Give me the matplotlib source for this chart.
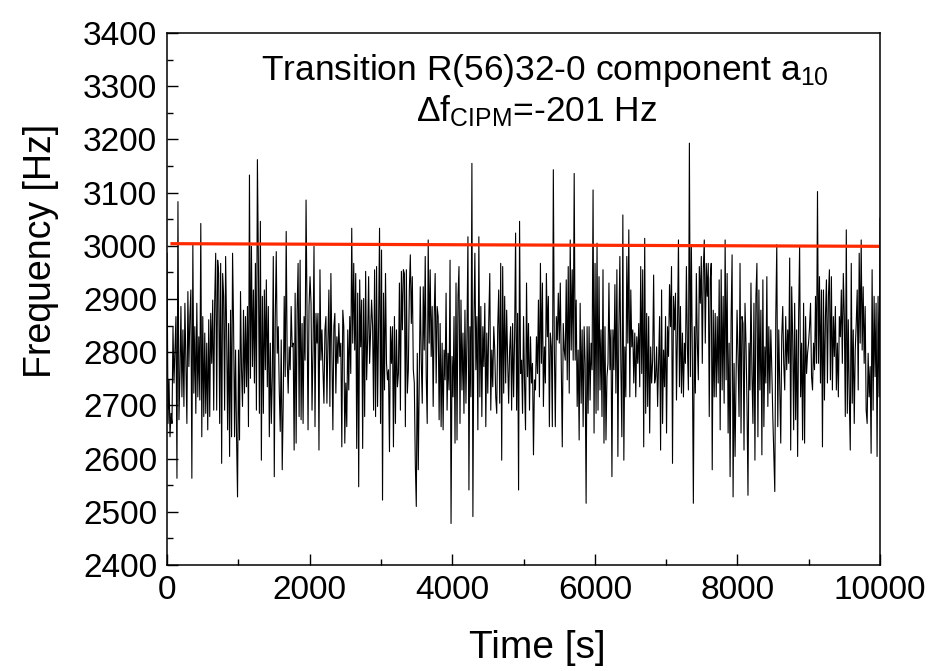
import numpy as np
import matplotlib
matplotlib.use('Agg')
import matplotlib.pyplot as plt
from matplotlib.ticker import MultipleLocator

plt.rcParams['font.family'] = ['Liberation Sans', 'DejaVu Sans']
plt.rcParams['mathtext.fontset'] = 'custom'
plt.rcParams['mathtext.rm'] = 'Liberation Sans'
plt.rcParams['mathtext.it'] = 'Liberation Sans'

# Beat frequency readings [Hz], evenly spread over 0..10000 s
freq = [
    2986, 2666, 2748, 2641, 2685, 2666, 2848, 2742, 2804, 2867, 2563, 3083, 2673, 2754, 2886, 2716,
    2842, 2698, 2892, 2779, 2666, 2914, 2773, 2867, 2917, 2563, 3002, 2723, 2848, 2685, 2892, 2716,
    2829, 2710, 3042, 2641, 2867, 2679, 2836, 2685, 2817, 2654, 2861, 2679, 2873, 2779, 2898, 2691,
    2898, 2986, 2691, 2973, 2948, 2666, 2967, 2591, 2948, 2905, 2691, 2980, 2842, 2654, 2854, 2604,
    2879, 2641, 2986, 2854, 2641, 2804, 2641, 2528, 2804, 2635, 2914, 2767, 2698, 2879, 2723, 2867,
    2735, 2886, 2660, 3133, 2751,
    2999, 2773, 2917, 2742, 2967, 2691, 3162, 2967, 2685, 3046, 2597, 2905, 2685, 2917, 2767, 2936,
    2735, 2886, 2641, 2817, 2666, 2754, 2980, 2566, 2867, 2989, 2798, 2848, 2729, 2651, 2823, 2579,
    2704, 2905, 2754, 3027, 2785, 2723, 2810, 2767, 2886, 2810, 2817, 2616, 2911, 2629, 2879, 2967,
    2679, 2973, 2673, 2854, 2666, 2867, 2785, 3086, 2867, 2654, 2886, 2942, 2892, 2691, 2804, 2999,
    2660, 2873, 2817, 2873, 2616, 2955, 2785, 2842, 2767, 2704, 2842, 2867, 2704, 2817, 2917, 2698,
    2948, 2804, 2654, 2848, 2873, 2723, 2829, 2779, 2854, 2792,
    2817, 2622, 2879, 2848, 2629, 2742, 2660, 2842, 2729, 2867, 2760, 3033, 2817, 2967, 2804, 2948,
    2619, 2911, 2547, 2936, 2810, 2898, 2619, 2901, 2679, 2952, 2748, 2823, 2942, 2779, 2842, 2898,
    2848, 2691, 2955, 2679, 2961, 2698, 2848, 3033, 2666, 2992, 2522, 2911, 2729, 2948, 2779, 2748,
    2767, 2613, 2848, 2779, 2848, 2622, 2867, 2666, 2842, 2735, 2760, 2930, 2691, 2952, 2842, 2955,
    2948, 2660, 2955, 2723, 2767, 2917, 2983, 2854, 2942, 2767, 2742, 2591, 2510, 2798, 2579, 2760,
    2923, 2785, 2704, 2923, 2804, 2980, 2754, 2666, 3011, 2817, 2955, 2792,
    2886, 2698, 2867, 2948, 2742, 2886, 2867, 2673, 2854, 2660, 2817, 2654, 2804, 2748, 2911, 2691,
    2798, 2729, 2973, 2478, 2792, 2716, 2867, 2629, 2930, 2635, 2905, 2961, 2666, 2898, 2729, 2836,
    2685, 2879, 2704, 2829, 3017, 2541, 2848, 2716, 3155, 2491, 2854, 2986, 2767, 2867, 2654, 3017,
    2716, 2886, 2679, 2848, 2773, 2892, 2660, 2836, 2723, 2861, 2948, 2691, 2804, 2735, 2848, 2804,
    2716, 2685, 2848, 2917, 2704, 2967, 2597, 2961, 2723, 2905, 2742, 2879, 2785, 2704, 2804, 2848,
    2691, 2854, 2716, 2829, 3024, 2691, 2873, 2541, 3046, 2760, 2785,
    2685, 2867, 2742, 2654, 2930, 2754, 2854, 2691, 2829, 2742, 2779, 2607, 2748, 2729, 2829, 2760,
    2898, 2716, 2967, 2779, 2930, 2698, 2810, 2742, 2948, 2829, 2905, 2660, 2836, 2810, 2660, 3143,
    2810, 2660, 2867, 2823, 2911, 2817, 2930, 2779, 2622, 2854, 2804, 2785, 2936, 2748, 2961, 2723,
    3011, 2804, 2955, 2785, 3136, 2785, 2898, 2698, 2804, 2635, 2892, 2704, 2842, 2660, 2848, 2779,
    2516, 2848, 2685, 2848, 2710, 2817, 2767, 3105, 2648, 2967, 2685, 3005, 2691, 2942, 2729, 2842,
    2679, 2955, 2629, 2848, 2635, 2754, 2779, 2930, 2767, 2842, 2566,
    2842, 2767, 2927, 2723, 2955, 2604, 2842, 2980, 2773, 2641, 3058, 2597, 2810, 2716, 2980, 2817,
    3030, 2716, 2917, 2810, 2842, 2742, 2836, 2716, 2829, 2779, 2854, 2735, 2961, 2760, 2955, 2622,
    3014, 2685, 2873, 2698, 2867, 2648, 2810, 2742, 2785, 2945, 2742, 2754, 2810, 2698, 2779, 2867,
    2616, 2917, 2666, 2804, 2735, 2867, 2648, 2848, 2792, 2927, 2848, 2961, 2591, 2905, 2842, 2911,
    2710, 2842, 3011, 2735, 2886, 2723, 2836, 2716, 2817, 2779, 2961, 2810, 2729, 3193, 2754, 2999,
    2785, 2516, 2848, 2723, 2948, 2817, 2748, 2961, 2892, 2980, 2779,
    2955, 3011, 2817, 2967, 2905, 2967, 2679, 2936, 2967, 2579, 2879, 2716, 2873, 2716, 2867, 2742,
    2936, 2654, 2955, 2729, 2905, 2704, 3011, 2748, 2948, 2648, 2817, 2566, 2861, 2983, 2528, 2779,
    2604, 2754, 2879, 2792, 2679, 2967, 2648, 2867, 2854, 2616, 2892, 2817, 2704, 2531, 2817, 2729,
    2930, 2760, 2666, 2892, 2597, 2905, 2967, 2641, 2917, 2729, 2879, 2607, 2936, 2660, 2810, 2742,
    2942, 2698, 2848, 2723, 2842, 2767, 2679, 2610, 2538, 2867, 3002, 2660, 2842, 2735, 2629, 2829,
    2886, 2779, 2729, 2867, 2767, 2842, 2779, 2977, 2616, 2923, 2829,
    2654, 2892, 2673, 2842, 2604, 2867, 2999, 2716, 2817, 2635, 2892, 2629, 2867, 2760, 2798, 2817,
    2848, 2892, 2754, 2729, 2817, 2767, 2905, 2779, 3102, 2779, 2942, 2742, 2917, 2622, 2917, 2710,
    2867, 2936, 2742, 2905, 2955, 2748, 2942, 2729, 2867, 2792, 2886, 2729, 2817, 2716, 2867, 2829,
    2917, 2779, 2948, 2867, 2679, 3030, 2685, 2861, 2716, 2616, 2967, 2704, 2842, 2666, 2804, 2854,
    2917, 2729, 2986, 2817, 3011, 2804, 2923, 2779, 2886, 2691, 2666, 2798, 2716, 2773, 2610, 2955,
    2691, 2905, 2754, 2892, 2604, 2905, 2716, 3052,
]
t_start, t_end = 0, 10000

# linear drift fit (red line)
fit_t = [70, 10000]
fit_f = [3004, 2999]

title_line1 = r'Transition R(56)32-0 component a$_{10}$'
title_line2 = r'$\Delta$f$_{\mathrm{CIPM}}$=-201 Hz'

time = np.linspace(t_start, t_end, len(freq))

fig = plt.figure(figsize=(9.3, 6.71), dpi=100)
ax = fig.add_axes([0.1796, 0.158, 0.7667, 0.7928])
ax.plot(time, freq, color='black', lw=0.8)
ax.plot(fit_t, fit_f, color='#ff2a00', lw=2.3)

ax.set_xlim(0, 10000)
ax.set_ylim(2400, 3400)
ax.xaxis.set_major_locator(MultipleLocator(2000))
ax.xaxis.set_minor_locator(MultipleLocator(1000))
ax.yaxis.set_major_locator(MultipleLocator(100))
ax.yaxis.set_minor_locator(MultipleLocator(50))
ax.tick_params(which='both', direction='in', top=False, right=False, labelsize=24, width=1)
ax.tick_params(which='major', length=8, pad=7)
ax.tick_params(which='minor', length=4)
for s in ax.spines.values():
    s.set_linewidth(1.1)

ax.set_xlabel('Time [s]', fontsize=28)
ax.set_ylabel('Frequency [Hz]', fontsize=27)
ax.xaxis.set_label_coords(0.519, -0.123)
ax.yaxis.set_label_coords(-0.152, 0.59)

ax.text(0.53, 0.93, title_line1, transform=ax.transAxes, ha='center', va='center', fontsize=25.5)
ax.text(0.519, 0.853, title_line2, transform=ax.transAxes, ha='center', va='center', fontsize=25.5)

fig.savefig('out.png', dpi=100)
